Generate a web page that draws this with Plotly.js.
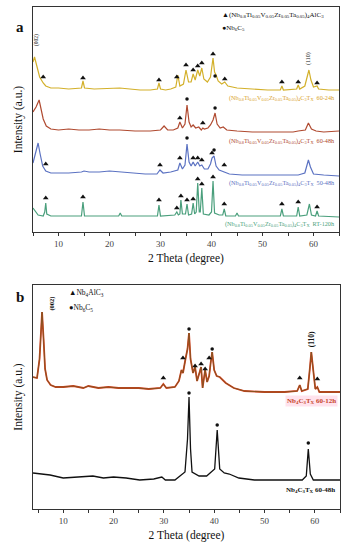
<!DOCTYPE html>
<html>
<head>
<meta charset="utf-8">
<script src="https://cdn.plot.ly/plotly-3.0.1.min.js"></script>
<style>html,body{margin:0;padding:0;background:#fff;}#chart{width:349px;height:550px;}</style>
</head>
<body>
<div id="chart"></div>
<script>
// ---------- Panel a data (2θ in degrees, intensity in arbitrary offset units) ----------
const a_24h_x = [5.0,5.3,5.8,6.3,7.0,7.5,8.5,10,12,14.5,14.8,15.1,17,20,22,24,26,28,29.4,29.7,30.0,31,32,33.0,33.4,33.8,34.5,35.0,35.5,36.0,36.4,36.8,37.3,37.7,38.1,38.5,39.2,39.8,40.3,40.6,40.9,41.3,42.0,42.6,43.2,45,48,51,53.5,53.8,54.1,56.7,57.0,57.3,58.3,58.8,59.1,59.5,60.0,60.7,61,63,65];
const a_24h_y = [170,175,165,155,149,146,144,144,143,144,151,144,143,144,144,143,142,142,143,149,143,142,143,145,157,146,148,162,150,150,158,152,162,156,164,153,150,155,174,160,157,151,148,150,146,144,143,142,142,146,142,143,147,143,146,157,162,152,145,146,143,142,142];

const a_48h_x = [5.0,5.6,6.2,6.6,7.0,7.6,8.5,10,12,14,16,18,20,22,25,28,30.0,30.7,31.4,32.5,33.4,33.8,34.3,34.8,35.2,35.6,36.0,36.4,36.9,37.5,38.0,38.3,38.6,39.3,39.8,40.3,40.7,41.1,41.7,42.3,43,45,48,51,54,56,57,58.4,59.0,59.6,60.5,62,65];
const a_48h_y = [120,125,132,124,113,106,103,102,103,102,102,103,102,102,101,101,102,106,102,102,104,110,104,108,127,110,105,107,104,105,102,104,103,104,107,112,119,108,104,105,102,101,100,100,100,100,101,102,109,103,101,100,101];

const a_5048_x = [5.0,5.5,6.0,6.4,6.9,7.5,8.5,10,12,14.5,15,16,18,20,22,24,27,29.3,29.9,30.5,32,33.4,33.8,34.3,34.8,35.2,35.6,36.0,36.4,36.8,37.3,37.7,38.1,38.6,39.3,39.8,40.1,40.5,40.9,41.5,42.5,43.5,46,50,54,57,58.3,58.7,59.0,59.4,60,62,65];
const a_5048_y = [69,78,89,78,66,61,59,59,59,60,61,60,60,61,60,59,58,58,62,59,60,62,69,63,67,88,70,66,70,66,70,66,67,63,63,68,74,76,66,62,60,58,57,57,57,57,59,68,72,65,58,57,56];

const a_rt_x = [5.0,5.5,6.0,7.0,7.3,7.5,7.7,8.5,11,14.5,14.8,15.1,18,21.8,22.1,22.4,26,29.4,29.7,30.0,32.8,33.2,33.5,33.8,34.0,34.3,34.9,35.2,35.5,36.1,36.4,36.7,37.0,37.3,37.6,37.8,38.1,38.4,39.5,40.0,40.3,40.6,41.5,42.2,42.5,42.8,44.7,45.0,45.3,50,53.5,53.8,54.1,56.7,57.0,57.3,58.7,59.2,59.6,60.4,60.7,61.0,65];
const a_rt_y = [24,20,17,16,20,29,18,16,16,16,30,16,16,16,19,16,16,16,27,16,17,20,17,18,32,18,18,28,17,18,29,18,20,49,20,20,44,18,17,20,51,19,17,17,23,16,16,19,16,16,16,23,16,16,25,16,17,28,17,16,21,16,15];

// reflection markers, panel a
const a_triX = [7.0,14.8,29.7,33.2,35.0,36.4,37.3,38.1,40.3,42.6,53.8,57.0,60.7,
                33.8,38.3,
                7.5,29.9,33.8,36.4,37.3,38.1,40.1,42.5,
                7.5,14.8,29.7,33.2,34.0,35.2,36.4,37.3,38.1,40.3,42.5,53.8,57.0,60.7];
const a_triY = [155,154,152,155,167,162,166,169,178,153,150,150,149,
                114,109,
                68,67,74,74,74,72,79,67,
                34,35,32,24,36,32,33,53,48,55,28,28,30,25];
const a_dotX = [40.7, 35.2, 40.7, 35.2, 40.5];
const a_dotY = [156, 133, 124, 94, 82];

// ---------- Panel b data ----------
const b_12h_x = [4.0,4.8,5.3,5.6,5.8,6.1,6.4,6.8,7.5,8.5,10,12,14,15,17,19,21,23,25,27,29.3,29.9,30.5,32.2,33.0,33.5,33.8,34.3,34.7,35.0,35.3,35.8,36.2,36.6,37.0,37.4,37.7,38.2,38.6,39.0,39.3,39.6,40.0,40.5,41.1,42.3,43.9,46,50,54,56.5,57.0,57.4,58.6,59.0,59.3,59.7,60.1,60.5,60.9,63,65];
const b_12h_y = [132,131,150,185,197,170,140,129,124,122,122,123,121,123,121,122,121,121,121,120,121,125,121,122,128,139,136,150,160,176,150,136,142,128,136,142,121,139,127,133,146,157,139,133,132,126,121,118,117,117,118,124,118,120,140,157,138,120,122,117,117,117];

const b_48h_x = [4.0,5.5,7.4,10,13,15.9,18,20,22.5,25.2,28,29.6,30.3,32.2,34.2,34.7,35.0,35.3,35.6,37,38.5,40.1,40.6,41.1,42,43,44.9,48,52,55,57.5,58.3,58.7,59.1,59.7,62,65];
const b_48h_y = [36,35,34,31,32,33,31,32,31,29,30,32,29,29,37,70,112,60,37,33,33,40,79,40,36,35,31,29,29,29,29,33,60,35,29,29,29];

const b_triX = [29.9, 33.8, 36.2, 37.4, 38.2, 39.0, 57.0, 60.5];
const b_triY = [131, 151, 143, 145, 140, 151, 131, 130];
const b_dotX = [35.0, 39.6, 35.0, 40.6, 58.7];
const b_dotY = [180, 160, 116, 84, 66];

// ---------- text ----------
const formulaA = '(Nb<sub>0.8</sub>Ti<sub>0.05</sub>V<sub>0.05</sub>Zr<sub>0.05</sub>Ta<sub>0.05</sub>)<sub>4</sub>';
const labelsA = [formulaA + 'C<sub>3</sub>T<sub>X</sub>  60-24h', formulaA + 'C<sub>3</sub>T<sub>X</sub>  60-48h',
                 formulaA + 'C<sub>3</sub>T<sub>X</sub>  50-48h', formulaA + 'C<sub>3</sub>T<sub>X</sub>  RT-120h'];
const labelsB = ['Nb<sub>4</sub>C<sub>3</sub>T<sub>X</sub> 60-12h', 'Nb<sub>4</sub>C<sub>3</sub>T<sub>X</sub> 60-48h'];
const xTickVals = [5,10,15,20,25,30,35,40,45,50,55,60,65];
const xTickText = ['','10','','20','','30','','40','','50','','60',''];

const F = 'Liberation Serif, Times New Roman, serif';
const colors = {y:'#d3b02a', r:'#b04a30', b:'#5b72c2', g:'#4a9f7c', b12:'#d8401f', b12b:'#7e5520', k:'#111111'};

function line(x, y, c, w, xa, ya){ return {x:x, y:y, type:'scatter', mode:'lines', line:{color:c, width:w}, xaxis:xa, yaxis:ya, hoverinfo:'skip'}; }
function marks(x, y, sym, s, xa, ya){ return {x:x, y:y, type:'scatter', mode:'markers', marker:{symbol:sym, size:s, color:'#111'}, xaxis:xa, yaxis:ya, hoverinfo:'skip'}; }

const data = [
  line(a_24h_x, a_24h_y, colors.y, 1.2, 'x', 'y'),
  line(a_48h_x, a_48h_y, colors.r, 1.2, 'x', 'y'),
  line(a_5048_x, a_5048_y, colors.b, 1.2, 'x', 'y'),
  line(a_rt_x, a_rt_y, colors.g, 1.2, 'x', 'y'),
  marks(a_triX, a_triY, 'triangle-up', 5, 'x', 'y'),
  marks(a_dotX, a_dotY, 'circle', 3.5, 'x', 'y'),
  line(b_12h_x, b_12h_y, colors.b12, 1.8, 'x2', 'y2'),
  line(b_12h_x, b_12h_y, colors.b12b, 0.9, 'x2', 'y2'),
  line(b_48h_x, b_48h_y, colors.k, 1.3, 'x2', 'y2'),
  marks(b_triX, b_triY, 'triangle-up', 5, 'x2', 'y2'),
  marks(b_dotX, b_dotY, 'circle', 3.5, 'x2', 'y2')
];

function xaxis(range, dom, anchor){
  return {domain:dom, range:range, anchor:anchor, tickvals:xTickVals, ticktext:xTickText, ticks:'outside', ticklen:3, tickwidth:1, tickcolor:'#333',
    showline:true, linecolor:'#333', linewidth:1.2, mirror:true, showgrid:false, zeroline:false,
    tickfont:{family:F, size:9, color:'#444'},
    title:{text:'2 Theta (degree)', font:{family:F, size:11.5, color:'#111'}, standoff:6}};
}
function yaxis(range, dom, anchor){
  return {domain:dom, range:range, anchor:anchor, showticklabels:false, ticks:'', showline:true, linecolor:'#333', linewidth:1.2, mirror:true,
    showgrid:false, zeroline:false, title:{text:'Intensity (a.u.)', font:{family:F, size:11.5, color:'#111'}, standoff:6}};
}

function ann(x, y, t, xa, ya, o){
  return Object.assign({x:x, y:y, xref:xa, yref:ya, text:t, showarrow:false, font:{family:F, size:6, color:'#111'}}, o||{});
}

const annotations = [
  // panel letters
  {x:14/349, y:1-17/550, xref:'paper', yref:'paper', text:'<b>a</b>', showarrow:false, font:{family:F, size:15, color:'#111'}},
  {x:14/349, y:1-297/550, xref:'paper', yref:'paper', text:'<b>b</b>', showarrow:false, font:{family:F, size:15, color:'#111'}},
  // panel a legend
  ann(41.6, 217, '▲' + formulaA + 'AlC<sub>3</sub>', 'x', 'y', {xanchor:'left', font:{family:F, size:7, color:'#111'}}),
  ann(41.6, 204, '●Nb<sub>6</sub>C<sub>5</sub>', 'x', 'y', {xanchor:'left', font:{family:F, size:7, color:'#111'}}),
  // hkl labels panel a
  ann(5.8, 192, '(002)', 'x', 'y', {textangle:-90, font:{family:F, size:5.5, color:'#111'}}),
  ann(59.1, 174, '(110)', 'x', 'y', {textangle:-90, font:{family:F, size:6, color:'#111'}}),
  // sample labels panel a
  ann(64.6, 134, labelsA[0], 'x', 'y', {xanchor:'right', font:{family:F, size:6.2, color:'#d9a22a'}}),
  ann(64.6, 91, labelsA[1], 'x', 'y', {xanchor:'right', font:{family:F, size:6.2, color:colors.r}}),
  ann(64.6, 49, labelsA[2], 'x', 'y', {xanchor:'right', font:{family:F, size:6.2, color:colors.b}}),
  ann(64.6, 8, labelsA[3], 'x', 'y', {xanchor:'right', font:{family:F, size:6.2, color:colors.g}}),
  // panel b legend
  ann(10.8, 216, '▲Nb<sub>4</sub>AlC<sub>3</sub>', 'x2', 'y2', {xanchor:'left', font:{family:F, size:7.5, color:'#111'}}),
  ann(10.8, 201, '●Nb<sub>6</sub>C<sub>5</sub>', 'x2', 'y2', {xanchor:'left', font:{family:F, size:7.5, color:'#111'}}),
  // hkl labels panel b
  ann(7.7, 205, '<b>(002)</b>', 'x2', 'y2', {textangle:-90, font:{family:F, size:6.5, color:'#111'}}),
  ann(59.3, 170, '<b>(110)</b>', 'x2', 'y2', {textangle:-90, font:{family:F, size:7.5, color:'#111'}}),
  // sample labels panel b
  ann(64.6, 108, '<b>' + labelsB[0] + '</b>', 'x2', 'y2', {xanchor:'right', bgcolor:'rgba(255,215,230,0.7)', font:{family:F, size:7, color:'#c8452a'}}),
  ann(64.4, 19, '<b>' + labelsB[1] + '</b>', 'x2', 'y2', {xanchor:'right', font:{family:F, size:7, color:'#111'}})
];

const layout = {
  width:349, height:550, margin:{l:0, r:0, t:0, b:0}, paper_bgcolor:'#fff', plot_bgcolor:'#fff', showlegend:false,
  xaxis: xaxis([5,65], [33/349, 339/349], 'y'),
  yaxis: yaxis([0,225], [1-232/550, 1-7/550], 'x'),
  xaxis2: xaxis([4,65], [33/349, 340/349], 'y2'),
  yaxis2: yaxis([0,224], [1-509/550, 1-285/550], 'x2'),
  annotations: annotations,
  font:{family:F}
};

Plotly.newPlot('chart', data, layout, {staticPlot:true, displayModeBar:false});
</script>
</body>
</html>
